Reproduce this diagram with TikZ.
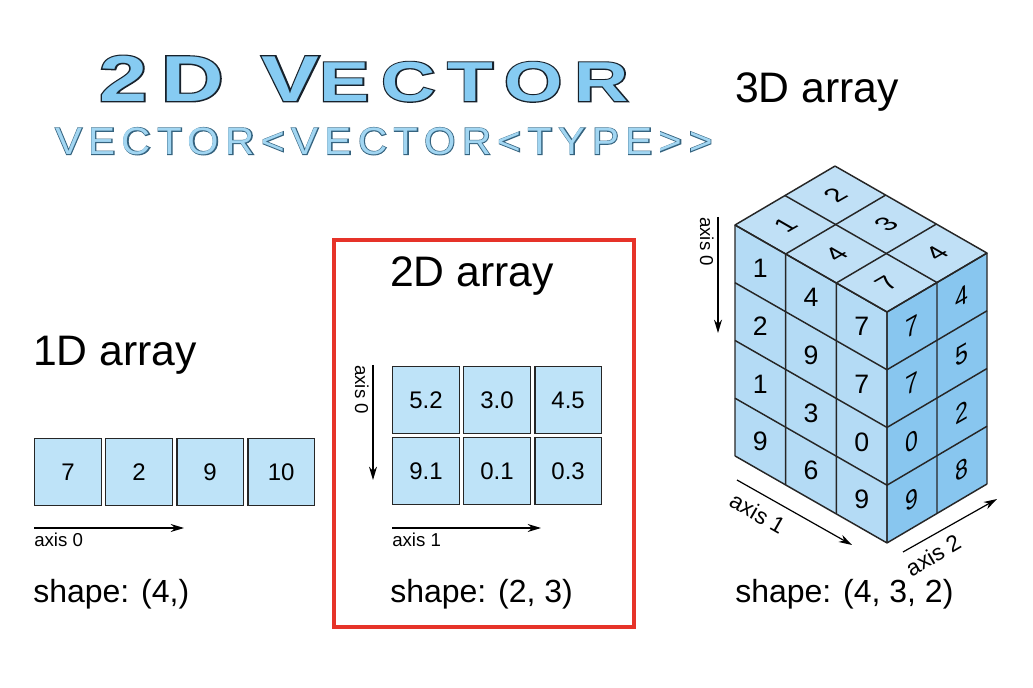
\documentclass[tikz,border=0pt]{standalone}
\usepackage{fontspec}
\setmainfont{Liberation Sans}
\newfontfamily\titlefont[LetterSpace=16]{Liberation Sans}
\newfontfamily\titleoutline[LetterSpace=16, FakeBold=4]{Liberation Sans}
\usepackage{graphicx}
\usetikzlibrary{arrows.meta, positioning}

\definecolor{cellblue}{HTML}{BEE3F8}
\definecolor{leftblue}{HTML}{B4DBF5}
\definecolor{topblue}{HTML}{C0E0F6}
\definecolor{rightblue}{HTML}{88C6EF}
\definecolor{framered}{HTML}{E63329}
\definecolor{titlefill}{HTML}{86CBF2}
\definecolor{titleline}{HTML}{17212B}
\definecolor{subfill}{HTML}{A2D6F2}
\definecolor{subline}{HTML}{35637F}

\newcommand{\titletext}{\bfseries\fontsize{60}{60}\selectfont 2D V\fontsize{52}{52}\selectfont ECTOR}
\newcommand{\subtext}{\fontsize{30}{30}\selectfont VECTOR<VECTOR<TYPE>>}

\begin{document}
\begin{tikzpicture}[
    x=0.75pt, y=-0.75pt,
    cell/.style={rectangle, draw=black!85, line width=1.1pt, fill=cellblue, minimum size=50pt, inner sep=0pt, font=\fontsize{18}{18}\selectfont},
    heading/.style={anchor=base west, inner sep=0pt, font=\fontsize{32}{36}\selectfont},
    shapelabel/.style={anchor=base west, inner sep=0pt, font=\fontsize{24}{28}\selectfont},
    axislabel/.style={inner sep=0pt, font=\fontsize{14}{16}\selectfont},
    arrow/.style={-{Stealth[length=10pt, width=6pt]}, line width=0.9pt},
    edge/.style={draw=black!85, line width=1.1pt, line join=round},
    cubenum/.style={inner sep=0pt, font=\fontsize{20}{20}\selectfont},
    banner/.style={anchor=south west, inner sep=0pt}
]
    \fill[white] (0,0) rectangle (1033,688);
    \useasboundingbox (0,0) rectangle (1033,688);

    % title, outline layer under the fill layer
    \node[banner, text=titleline] (titleback) at (99,102)
        {\resizebox{397pt}{34pt}{\titleoutline\titletext}};
    \node[banner, text=titlefill] (title) at (99,102)
        {\resizebox{397pt}{34pt}{\titlefont\titletext}};
    \node[banner, text=subline] (subtitleback) at (55,155)
        {\resizebox{493pt}{20pt}{\titleoutline\subtext}};
    \node[banner, text=subfill] (subtitle) at (55,155)
        {\resizebox{493pt}{20pt}{\titlefont\subtext}};

    % 1D array
    \node[heading] (h1) at (33,365) {1D array};
    \node[cell] (a1) at (68,472) {7};
    \node[cell, right=2.2pt of a1] (a2) {2};
    \node[cell, right=2.2pt of a2] (a3) {9};
    \node[cell, right=2.2pt of a3] (a4) {10};
    \coordinate (p0s) at (34,528);
    \coordinate (p0e) at (184,528);
    \draw[arrow] (p0s) -- (p0e);
    \node[axislabel, anchor=north west] (l1a0) at (34,533) {axis 0};
    \node[shapelabel] (s1) at (33,602) {shape: (4,)};

    % 2D array
    \draw[framered, line width=3pt] (334,240) rectangle (634,627);
    \node[heading] (h2) at (390,287) {2D array};
    \node[cell] (b11) at (426,400) {5.2};
    \node[cell, right=2.2pt of b11] (b12) {3.0};
    \node[cell, right=2.2pt of b12] (b13) {4.5};
    \node[cell, below=2.2pt of b11] (b21) {9.1};
    \node[cell, right=2.2pt of b21] (b22) {0.1};
    \node[cell, right=2.2pt of b22] (b23) {0.3};
    \coordinate (q0s) at (373,365);
    \coordinate (q0e) at (373,480);
    \draw[arrow] (q0s) -- (q0e);
    \node[axislabel, rotate=-90, anchor=north west] (l2a0) at (369,365) {axis 0};
    \coordinate (q1s) at (392,528);
    \coordinate (q1e) at (541,528);
    \draw[arrow] (q1s) -- (q1e);
    \node[axislabel, anchor=north west] (l2a1) at (392,533) {axis 1};
    \node[shapelabel] (s2) at (390,602) {shape: (2, 3)};

    % 3D array
    \node[heading] (h3) at (735,103) {3D array};
    \begin{scope}[shift={(735,225)}, x={(38pt,-21.75pt)}, y={(37.5pt,22.1pt)}, z={(0pt,-43.3pt)}]
        \fill[leftblue] (0,0,0) -- (3,0,0) -- (3,0,4) -- (0,0,4) -- cycle;
        \fill[rightblue] (3,0,0) -- (3,2,0) -- (3,2,4) -- (3,0,4) -- cycle;
        \fill[topblue] (0,0,0) -- (3,0,0) -- (3,2,0) -- (0,2,0) -- cycle;
        \foreach \j in {0,...,3}
            \draw[edge] (\j,2,0) -- (\j,0,0) -- (\j,0,4);
        \foreach \i in {0,...,4}
            \draw[edge] (0,0,\i) -- (3,0,\i) -- (3,2,\i);
        \foreach \k in {0,1,2}
            \draw[edge] (0,\k,0) -- (3,\k,0) -- (3,\k,4);
        % front face
        \foreach \row [count=\i from 0] in {{1,4,7},{2,9,7},{1,3,0},{9,6,9}}
            \foreach \v [count=\j from 0] in \row
                \node[cubenum] (f\i\j) at (\j+0.5,0,\i+0.5) {\v};
        % side face
        \foreach \col [count=\k from 0] in {{7,7,0,9},{4,5,2,8}}
            \foreach \v [count=\i from 0] in \col
                \node[cubenum, yslant=0.577, xscale=0.866] (r\k\i) at (3,\k+0.5,\i+0.5) {\v};
        % top face
        \foreach \v [count=\n from 0] in {1,2,4,3,7,4} {
            \pgfmathtruncatemacro{\jj}{\n/2}
            \pgfmathtruncatemacro{\kk}{mod(\n,2)}
            \node[cubenum, rotate=30, xslant=-0.577, yscale=0.866] (t\jj\kk) at (\jj+0.5,\kk+0.5,0) {\v};
        }
    \end{scope}
    \coordinate (c0s) at (718,217);
    \coordinate (c0e) at (718,333);
    \draw[arrow] (c0s) -- (c0e);
    \node[axislabel, rotate=-90, anchor=north west] (l3a0) at (714,217) {axis 0};
    \coordinate (c1s) at (737,480);
    \coordinate (c1e) at (852,545);
    \draw[arrow] (c1s) -- (c1e);
    \node[axislabel, font=\fontsize{17}{18}\selectfont, rotate=-29.8, anchor=north west] (l3a1) at (736,491) {axis 1};
    \coordinate (c2s) at (903,552);
    \coordinate (c2e) at (997,499);
    \draw[arrow] (c2s) -- (c2e);
    \node[axislabel, font=\fontsize{17}{18}\selectfont, rotate=30.5, anchor=north west] (l3a2) at (903,563) {axis 2};
    \node[shapelabel] (s3) at (735,602) {shape: (4, 3, 2)};
\end{tikzpicture}
\end{document}
